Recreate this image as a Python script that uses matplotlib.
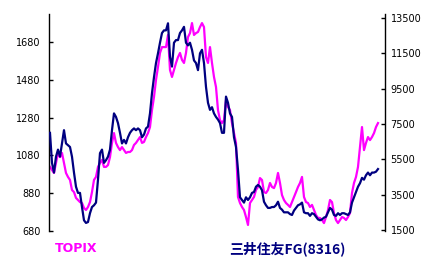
import matplotlib
matplotlib.use("Agg")
import matplotlib.pyplot as plt
import numpy as np

# TOPIX (left axis), roughly every few trading weeks
topix = [1019, 1003, 987, 1040, 1093, 1071, 1093, 1040, 987, 966, 950, 897, 886, 855, 844, 833, 828, 802, 791, 807,
         833, 886, 950, 966, 1019, 1040, 1056, 1019, 1019,
         1029, 1071, 1146, 1198, 1146, 1124, 1108, 1124, 1108, 1093, 1098, 1098, 1108, 1135, 1146, 1161, 1177, 1146,
         1151, 1177, 1198, 1230, 1320, 1389, 1479, 1548, 1622, 1653, 1653,
         1653, 1717, 1532, 1495, 1532, 1569, 1600, 1622, 1585, 1569, 1622, 1706, 1727, 1780, 1717, 1727, 1733, 1759,
         1780, 1759, 1600, 1569, 1653, 1569, 1495, 1442, 1320, 1267, 1251,
         1267, 1373, 1336, 1320, 1251, 1198, 1146, 860, 828, 807, 791, 754, 712, 828, 844, 860, 897, 913, 960, 950,
         886, 881, 897, 934, 913, 907, 934, 987, 934,
         870, 844, 828, 818, 807, 833, 860, 886, 913, 934, 966, 860, 833, 828, 807, 818, 791, 765, 749, 749,
         738, 722, 754, 791, 844, 833, 775, 738, 722,
         738, 754, 749, 738, 754, 775, 881, 934, 966, 1019, 1124, 1230, 1108, 1146, 1177, 1161, 1177, 1198, 1230, 1251]

# 三井住友FG (right axis)
smfg = [7000, 5300, 4750, 5650, 6050, 5650, 6400, 7150, 6400, 6300, 6200, 5650, 4750, 3950, 3600, 3600, 2800, 2050,
        1900, 1950, 2450, 2800, 2900, 3050, 4350, 5850, 6050, 5300, 5450,
        5650, 6050, 7150, 8100, 7900, 7550, 7000, 6400, 6600, 6400, 6750, 7000, 7150, 7250, 7150, 7250, 7150, 6750,
        6900, 7250, 7350, 8100, 9250, 10150, 10950, 11500, 12100, 12650, 12800,
        12800, 13200, 11300, 10750, 12100, 12250, 12250, 12650, 12800, 13000, 12100, 11950, 12100, 11700, 11100,
        10950, 10550, 11500, 11700, 10950, 9600, 8700, 8300, 8450, 8100, 7900, 7750, 7550, 7000,
        7000, 9050, 8700, 8100, 7900, 6750, 6200, 4900, 3350, 3200, 3050, 3350, 3200, 3350, 3600, 3650, 3950, 4050,
        3950, 3750, 3100, 2900, 2750, 2750, 2800, 2800, 2900, 3100, 2750,
        2650, 2500, 2500, 2500, 2400, 2350, 2600, 2750, 2900, 2950, 3050, 2500, 2450, 2450, 2300, 2450, 2400, 2250,
        2100, 2050, 2100, 2200, 2250, 2500, 2750, 2650, 2350, 2300, 2450,
        2350, 2450, 2450, 2400, 2350, 2500, 3050, 3350, 3650, 3950, 4150, 4450, 4350, 4600, 4750, 4600, 4750, 4750,
        4800, 4950]

left_ticks = [680, 880, 1080, 1280, 1480, 1680]
right_ticks = [1500, 3500, 5500, 7500, 9500, 11500, 13500]

x = np.arange(len(topix))

fig = plt.figure(figsize=(4.32, 2.71), dpi=100)
ax = fig.add_axes([0.1134, 0.1476, 0.7778, 0.8007])
ax2 = ax.twinx()

ax.plot(x, topix, c="#FF00FF", lw=1.6)
ax2.plot(x, smfg, c="#000080", lw=1.6)

ax.set_xlim(-0.5, 167.5)
ax.set_ylim(680, 1828)
ax2.set_ylim(1443, 13726)

ax.set_yticks(left_ticks)
ax2.set_yticks(right_ticks)
ax.set_xticks([])

for a in (ax, ax2):
    for s in ("top", "bottom"):
        a.spines[s].set_visible(False)
ax.spines["right"].set_visible(False)
ax.spines["left"].set_linewidth(1.0)
ax2.spines["right"].set_linewidth(1.0)
ax2.spines["left"].set_visible(False)

ax.tick_params(axis="y", direction="in", length=3, width=1, pad=6, labelsize=7)
ax2.tick_params(axis="y", direction="in", length=3, width=1, pad=4, labelsize=7)

fig.text(55 / 432, 1 - 249 / 271, "TOPIX", color="#FF00FF", fontsize=9, fontweight="bold",
         va="center", ha="left")
fig.text(229 / 432, 1 - 249 / 271, "三井住友FG(8316)", color="#000080", fontsize=10, fontweight="bold",
         va="center", ha="left", family=["Noto Sans CJK JP", "DejaVu Sans"])

fig.savefig("out.png", dpi=100)
